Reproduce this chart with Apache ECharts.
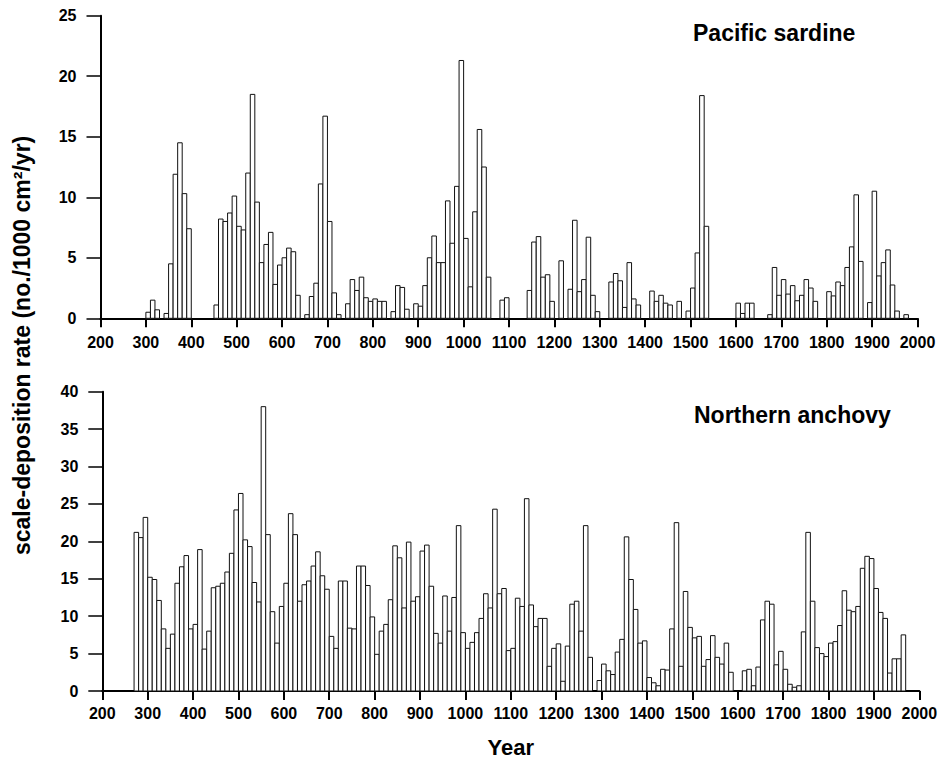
<!DOCTYPE html>
<html>
<head>
<meta charset="utf-8">
<script src="https://cdn.jsdelivr.net/npm/echarts@6/dist/echarts.min.js"></script>
<style>
html,body{margin:0;padding:0;background:#fff;}
#chart{width:943px;height:759px;}
</style>
</head>
<body>
<div id="chart"></div>
<script>
// ---------- data (decade bins, start year of each bin) ----------
const sardineYears = [300,310,320,340,350,360,370,380,390,
  450,460,470,480,490,500,510,520,530,540,550,560,570,580,590,600,610,620,630,
  650,660,670,680,690,700,710,720,
  740,750,760,770,780,790,800,810,820,
  840,850,860,870,890,900,910,920,930,940,950,960,970,980,990,1000,1010,1020,1030,1040,1050,
  1080,1090,
  1140,1150,1160,1170,1180,1190,1210,1230,1240,1250,1260,1270,1280,1290,
  1320,1330,1340,1350,1360,1370,1380,
  1410,1420,1430,1440,1450,1470,1490,1500,1510,1520,1530,
  1600,1610,1620,1630,1670,1680,1690,1700,1710,1720,1730,1740,1750,1760,1770,
  1800,1810,1820,1830,1840,1850,1860,1870,1890,1900,1910,1920,1930,1940,1950,1970];
const sardineRates = [0.5,1.5,0.7,0.4,4.5,11.9,14.5,10.3,7.4,
  1.1,8.2,8.0,8.7,10.1,7.6,7.3,12.0,18.5,9.6,4.6,6.1,7.1,2.8,4.4,5.0,5.8,5.5,1.9,
  0.3,1.8,2.9,11.1,16.7,8.0,2.1,0.3,
  1.2,3.2,2.3,3.4,1.7,1.4,1.6,1.4,1.4,
  0.55,2.7,2.55,0.75,1.2,1.0,2.7,5.0,6.8,4.6,4.6,9.7,6.2,10.9,21.3,6.6,2.6,8.8,15.6,12.5,3.4,
  1.5,1.7,
  2.3,6.3,6.75,3.4,3.6,1.4,4.75,2.4,8.1,2.2,3.2,6.7,1.9,0.55,
  3.0,3.7,3.1,0.9,4.6,1.6,1.1,
  2.25,1.4,1.9,1.25,1.1,1.4,0.6,2.5,5.4,18.4,7.6,
  1.25,0.4,1.25,1.25,0.3,4.2,1.9,3.2,2.0,2.7,1.45,1.9,3.2,2.5,1.4,
  2.2,1.85,3.0,2.7,4.2,5.9,10.2,4.7,1.3,10.5,3.5,4.6,5.65,2.75,0.6,0.3];

const anchovyYears = [270,280,290,300,310,320,330,340,350,360,370,380,390,400,410,420,430,440,450,460,
  470,480,490,500,510,520,530,540,550,560,570,580,590,600,610,620,630,640,650,660,
  670,680,690,700,710,720,730,740,750,760,770,780,790,800,810,820,830,840,850,860,
  870,880,890,900,910,920,930,940,950,960,970,980,990,1000,1010,1020,1030,1040,1050,1060,
  1070,1080,1090,1100,1110,1120,1130,1140,1150,1160,1170,1180,1190,1200,1210,1220,1230,1240,1250,1260,
  1270,1290,1300,1310,1320,1330,1340,1350,1360,1370,1380,1390,1400,1410,1420,1430,1440,1450,1460,1470,
  1480,1490,1500,1510,1520,1530,1540,1550,1560,1570,1580,1610,1620,1630,1640,1650,1660,1670,1680,1690,
  1700,1710,1720,1730,1740,1750,1760,1770,1780,1790,1800,1810,1820,1830,1840,1850,1860,1870,1880,1890,
  1900,1910,1920,1930,1940,1950,1960];
const anchovyRates = [21.2,20.5,23.2,15.2,14.9,12.1,8.3,5.7,7.6,14.4,16.6,18.1,8.3,8.9,18.9,5.6,8.0,13.8,14.0,14.4,
  15.9,18.4,24.2,26.4,20.2,19.3,14.5,11.9,38.0,20.9,10.6,6.4,11.3,14.4,23.7,20.9,12.0,14.2,14.7,16.7,
  18.6,15.4,13.6,7.3,5.7,14.7,14.7,8.4,8.3,16.7,16.7,14.1,9.9,4.9,8.0,8.9,12.2,19.4,17.8,11.1,
  19.9,12.0,12.6,18.7,19.5,14.0,7.7,6.4,12.7,8.0,12.5,22.1,7.8,5.7,6.5,7.8,9.7,13.0,11.1,24.3,
  13.0,13.7,5.4,5.7,12.4,11.3,25.7,11.5,8.6,9.7,9.7,3.3,5.7,6.3,1.3,6.0,11.6,12.0,8.0,22.1,
  4.5,1.4,3.6,2.7,2.2,5.2,6.9,20.6,14.9,10.9,6.4,6.7,1.8,1.1,0.7,2.9,2.8,8.3,22.5,3.3,
  13.3,8.5,7.1,7.3,3.3,4.2,7.4,4.5,3.6,6.4,2.5,2.7,2.9,0.7,3.2,9.5,12.0,11.6,3.5,5.3,
  2.9,0.9,0.5,0.7,7.9,21.2,12.0,5.8,5.0,4.6,6.4,6.6,8.75,13.4,10.8,10.6,11.3,16.4,18.0,17.7,
  13.7,10.5,9.7,2.4,4.3,4.3,7.5];

const yearTicks = [200,300,400,500,600,700,800,900,1000,1100,1200,1300,1400,1500,1600,1700,1800,1900,2000];
const sardineTicks = [0,5,10,15,20,25];
const anchovyTicks = [0,5,10,15,20,25,30,35,40];
const binWidth = 10;

const panelTitles = ['Pacific sardine', 'Northern anchovy'];
const xTitle = 'Year';
const yTitle = 'scale-deposition rate (no./1000 cm\u00B2/yr)';

// ---------- chart ----------
const FONT = "'Liberation Sans', Arial, Helvetica, sans-serif";
const chart = echarts.init(document.getElementById('chart'), null, {renderer: 'svg'});

function renderBar(params, api) {
  const x0 = api.value(0), v = api.value(1);
  const p0 = api.coord([x0, 0]);
  const p1 = api.coord([x0 + binWidth, v]);
  return {
    type: 'rect',
    shape: {x: p0[0], y: p1[1], width: p1[0] - p0[0], height: p0[1] - p1[1]},
    style: {fill: '#ffffff', stroke: '#111', lineWidth: 1}
  };
}

function xAxisCfg(grid, withName, margin) {
  const cfg = {
    gridIndex: grid, type: 'value',
    min: yearTicks[0], max: yearTicks[yearTicks.length - 1],
    interval: yearTicks[1] - yearTicks[0],
    axisLine: {show: true, onZero: false, lineStyle: {color: '#000', width: 2}},
    axisTick: {show: true, length: 9, lineStyle: {color: '#000', width: 2}},
    axisLabel: {margin: margin, fontSize: 16, fontWeight: 'bold', color: '#000', fontFamily: FONT,
      formatter: v => String(v), showMinLabel: true, showMaxLabel: true},
    splitLine: {show: false}
  };
  if (withName) {
    cfg.name = xTitle;
    cfg.nameLocation = 'middle';
    cfg.nameGap = 45;
    cfg.nameTextStyle = {fontSize: 22, fontWeight: 'bold', color: '#000', fontFamily: FONT};
  }
  return cfg;
}

function yAxisCfg(grid, ticks) {
  return {
    gridIndex: grid, type: 'value',
    min: ticks[0], max: ticks[ticks.length - 1], interval: ticks[1] - ticks[0],
    axisLine: {show: true, lineStyle: {color: '#000', width: 2}},
    axisTick: {show: true, length: 14, lineStyle: {color: '#000', width: 1.5}},
    axisLabel: {margin: 24, fontSize: 16, fontWeight: 'bold', color: '#000', fontFamily: FONT},
    splitLine: {show: false}
  };
}

const option = {
  backgroundColor: '#ffffff',
  animation: false,
  grid: [
    {left: 100.5, top: 15.7, width: 817, height: 302.6},
    {left: 102.3, top: 391.7, width: 817, height: 301.6}
  ],
  xAxis: [xAxisCfg(0, false, 16), xAxisCfg(1, true, 14)],
  yAxis: [yAxisCfg(0, sardineTicks), yAxisCfg(1, anchovyTicks)],
  series: [
    {type: 'custom', xAxisIndex: 0, yAxisIndex: 0, renderItem: renderBar,
      encode: {x: 0, y: 1},
      data: sardineYears.map((y, i) => [y, sardineRates[i]])},
    {type: 'custom', xAxisIndex: 1, yAxisIndex: 1, renderItem: renderBar,
      encode: {x: 0, y: 1},
      data: anchovyYears.map((y, i) => [y, anchovyRates[i]])}
  ],
  graphic: [
    {type: 'text', x: 693, y: 33,
      style: {text: panelTitles[0], fill: '#000', font: "bold 23px " + FONT, verticalAlign: 'middle', align: 'left'}},
    {type: 'text', x: 694, y: 415,
      style: {text: panelTitles[1], fill: '#000', font: "bold 23px " + FONT, verticalAlign: 'middle', align: 'left'}},
    {type: 'text', x: 22, y: 555, rotation: Math.PI / 2,
      style: {text: yTitle, fill: '#000', font: "bold 23px " + FONT, verticalAlign: 'middle', align: 'left'}}
  ]
};
chart.setOption(option);
</script>
</body>
</html>
